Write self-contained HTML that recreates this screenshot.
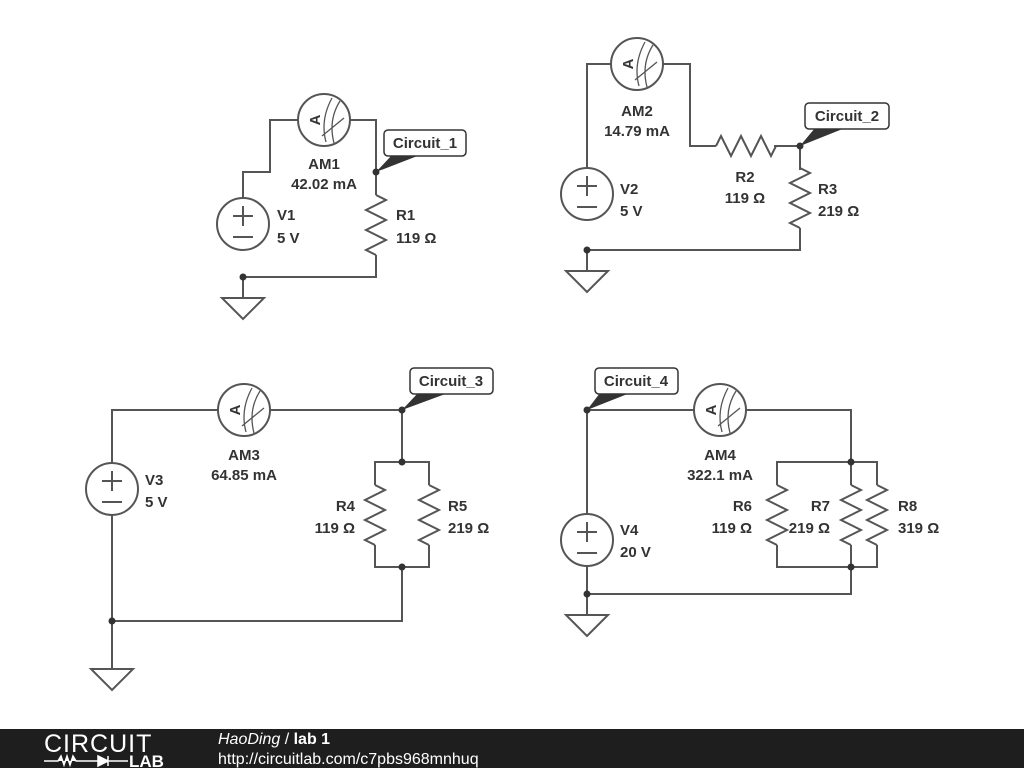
<!DOCTYPE html>
<html><head><meta charset="utf-8"><style>
html,body{margin:0;padding:0;background:#fff;width:1024px;height:768px;overflow:hidden}
svg{display:block}
text{font-family:"Liberation Sans",sans-serif;font-weight:bold;font-size:15px;fill:#333}
</style></head><body>
<svg width="1024" height="768" viewBox="0 0 1024 768">
<defs>
<g id="am"><circle r="26" fill="#fff" stroke="#555" stroke-width="2"/>
<text x="0" y="0" transform="translate(-9,0) rotate(-90)" text-anchor="middle" dy="5" style="font-size:15px">A</text>
<path d="M8,-22 Q-4,0 2,22 M16,-19 Q4,0 10,23 M-2,16 L20,-2" fill="none" stroke="#555" stroke-width="1.3"/></g>
<g id="vs"><circle r="26" fill="#fff" stroke="#555" stroke-width="2"/>
<path d="M-10,-8 H10 M0,-18 V2 M-10,13 H10" stroke="#555" stroke-width="2"/></g>
<path id="rv" d="M0,0 L10,5 L-10,15 L10,25 L-10,35 L10,45 L-10,55 L0,60" fill="none" stroke="#555" stroke-width="2"/>
<path id="gnd" d="M-21,0 H21 L0,21 Z" fill="#fff" stroke="#555" stroke-width="2"/>
</defs>
<g fill="none" stroke="#555" stroke-width="2">
<path d="M243,198 V172 H270 V120 H376 V195 M376,255 V277 H243 V298"/>
<path d="M587,168 V64 H690 V146 H716 M774,146 H800 V170 M800,228 V250 H587 V270"/>
<path d="M112,463 V410 H402 V462 H375 V485 M402,462 H429 V485 M375,545 V567 H429 V545 M402,567 V621 H112 M112,515 V668"/>
<path d="M587,514 V410 H851 V462 H777 V485 M851,462 H877 V485 M851,462 V485 M777,545 V567 H877 V545 M851,545 V567 M851,567 V594 H587 M587,566 V614"/>
</g>
<use href="#vs" x="243" y="224"/><use href="#am" x="324" y="120"/><use href="#rv" x="376" y="195"/><use href="#gnd" x="243" y="298"/>
<use href="#vs" x="587" y="194"/><use href="#am" x="637" y="64"/><use href="#rv" transform="translate(716,146) rotate(-90)"/><use href="#rv" x="800" y="168"/><use href="#gnd" x="587" y="271"/>
<use href="#vs" x="112" y="489"/><use href="#am" x="244" y="410"/><use href="#rv" x="375" y="485"/><use href="#rv" x="429" y="485"/><use href="#gnd" x="112" y="669"/>
<use href="#vs" x="587" y="540"/><use href="#am" x="720" y="410"/><use href="#rv" x="777" y="485"/><use href="#rv" x="851" y="485"/><use href="#rv" x="877" y="485"/><use href="#gnd" x="587" y="615"/>
<g fill="#333">
<circle cx="376" cy="172" r="3.5"/><circle cx="243" cy="277" r="3.5"/>
<circle cx="800" cy="146" r="3.5"/><circle cx="587" cy="250" r="3.5"/>
<circle cx="402" cy="410" r="3.5"/><circle cx="402" cy="462" r="3.5"/><circle cx="402" cy="567" r="3.5"/><circle cx="112" cy="621" r="3.5"/>
<circle cx="587" cy="410" r="3.5"/><circle cx="851" cy="462" r="3.5"/><circle cx="851" cy="567" r="3.5"/><circle cx="587" cy="594" r="3.5"/>
<path d="M376,172 L392,155 L420,155 Z"/>
<path d="M800,146 L815,128 L845,128 Z"/>
<path d="M402,410 L418,393 L448,393 Z"/>
<path d="M587,410 L600,393 L630,393 Z"/>
</g>
<g fill="#fff" stroke="#333" stroke-width="1.5">
<rect x="384" y="130" width="82" height="26" rx="4"/>
<rect x="805" y="103" width="84" height="26" rx="4"/>
<rect x="410" y="368" width="83" height="26" rx="4"/>
<rect x="595" y="368" width="83" height="26" rx="4"/>
</g>
<text x="425" y="148" text-anchor="middle">Circuit_1</text>
<text x="847" y="121" text-anchor="middle">Circuit_2</text>
<text x="451" y="386" text-anchor="middle">Circuit_3</text>
<text x="636" y="386" text-anchor="middle">Circuit_4</text>
<text x="324" y="169" text-anchor="middle">AM1</text><text x="324" y="189" text-anchor="middle">42.02 mA</text>
<text x="277" y="220">V1</text><text x="277" y="243">5 V</text>
<text x="396" y="220">R1</text><text x="396" y="243">119 Ω</text>
<text x="637" y="116" text-anchor="middle">AM2</text><text x="637" y="136" text-anchor="middle">14.79 mA</text>
<text x="620" y="194">V2</text><text x="620" y="216">5 V</text>
<text x="745" y="182" text-anchor="middle">R2</text><text x="745" y="203" text-anchor="middle">119 Ω</text>
<text x="818" y="194">R3</text><text x="818" y="216">219 Ω</text>
<text x="244" y="460" text-anchor="middle">AM3</text><text x="244" y="480" text-anchor="middle">64.85 mA</text>
<text x="145" y="485">V3</text><text x="145" y="507">5 V</text>
<text x="355" y="511" text-anchor="end">R4</text><text x="355" y="533" text-anchor="end">119 Ω</text>
<text x="448" y="511">R5</text><text x="448" y="533">219 Ω</text>
<text x="720" y="460" text-anchor="middle">AM4</text><text x="720" y="480" text-anchor="middle">322.1 mA</text>
<text x="620" y="535">V4</text><text x="620" y="557">20 V</text>
<text x="752" y="511" text-anchor="end">R6</text><text x="752" y="533" text-anchor="end">119 Ω</text>
<text x="830" y="511" text-anchor="end">R7</text><text x="830" y="533" text-anchor="end">219 Ω</text>
<text x="898" y="511">R8</text><text x="898" y="533">319 Ω</text>
<rect x="0" y="729" width="1024" height="39" fill="#1e1e1e"/>
<text x="44" y="752" style="font-weight:normal;font-size:25px;fill:#fff;letter-spacing:1px">CIRCUIT</text>
<path d="M44,761 H58 L61,756 L64,765 L67,756 L70,765 L73,756 L76,761 H98 M98,756 V766 L108,761 Z M108,756 V766 M108,761 H128" stroke="#fff" stroke-width="1.5" fill="#fff"/>
<text x="129" y="767" style="font-size:17px;fill:#fff">LAB</text>
<text x="218" y="744" style="font-weight:normal;font-size:16px;fill:#fff"><tspan style="font-style:italic">HaoDing</tspan> / <tspan style="font-weight:bold">lab 1</tspan></text>
<text x="218" y="764" style="font-weight:normal;font-size:16px;fill:#fff">http://circuitlab.com/c7pbs968mnhuq</text>
</svg>
</body></html>
